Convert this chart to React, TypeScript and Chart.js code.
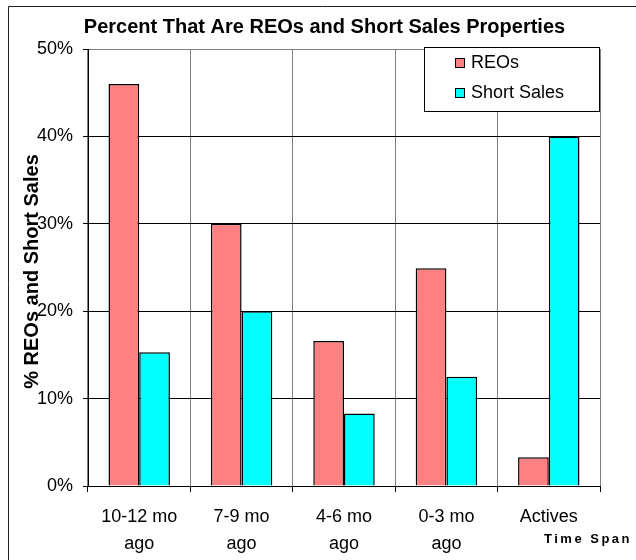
import React, { useEffect, useRef } from "react";
import { Chart, registerables } from "chart.js";

Chart.register(...registerables);

const categories: (string | string[])[] = [
  ["10-12 mo", "ago"],
  ["7-9 mo", "ago"],
  ["4-6 mo", "ago"],
  ["0-3 mo", "ago"],
  "Actives",
];
const reoValues = [46, 30, 16.6, 24.9, 3.3];
const shortSalesValues = [15.3, 20, 8.3, 12.5, 40];
const seriesNames = ["REOs", "Short Sales"];
const seriesColors = ["#FF8080", "#00FFFF"];
const chartTitle = "Percent That Are REOs and Short Sales Properties";
const yAxisTitle = "% REOs and Short Sales";
const xAxisTitle = "Time Span";

const FONT = '"Liberation Sans", Arial, sans-serif';

const decorPlugin = {
  id: "decor",
  afterDraw(chart: any) {
    const ctx = chart.ctx as CanvasRenderingContext2D;
    const area = chart.chartArea;
    ctx.save();
    // outer frame (top + left)
    ctx.strokeStyle = "#222";
    ctx.lineWidth = 1;
    ctx.beginPath();
    ctx.moveTo(8.5, 560);
    ctx.lineTo(8.5, 6.5);
    ctx.lineTo(636, 6.5);
    ctx.stroke();

    // title
    ctx.fillStyle = "#000";
    ctx.font = `bold 20px ${FONT}`;
    ctx.textAlign = "center";
    ctx.textBaseline = "middle";
    ctx.fillText(chartTitle, 324.5, 27);

    // y title
    ctx.save();
    ctx.translate(32, (area.top + area.bottom) / 2 + 4);
    ctx.rotate(-Math.PI / 2);
    ctx.font = `bold 20px ${FONT}`;
    ctx.fillText(yAxisTitle, 0, 0);
    ctx.restore();

    // x title
    ctx.save();
    ctx.font = `bold 13px ${FONT}`;
    (ctx as any).letterSpacing = "2.5px";
    ctx.textAlign = "left";
    ctx.fillText(xAxisTitle, 544, 539);
    ctx.restore();

    // legend
    const lx = 424.5, ly = 47.5, lw = 175, lh = 64;
    ctx.fillStyle = "#fff";
    ctx.fillRect(lx, ly, lw, lh);
    ctx.strokeStyle = "#000";
    ctx.lineWidth = 1;
    ctx.strokeRect(lx, ly, lw, lh);
    ctx.font = `18px ${FONT}`;
    ctx.textAlign = "left";
    ctx.textBaseline = "middle";
    const rows = [63, 93];
    seriesNames.forEach((name, i) => {
      ctx.fillStyle = seriesColors[i];
      ctx.fillRect(455, rows[i] - 5, 10, 10);
      ctx.strokeStyle = "#000";
      ctx.strokeRect(455.5, rows[i] - 4.5, 9, 9);
      ctx.fillStyle = "#000";
      ctx.fillText(name, 471, rows[i]);
    });
    ctx.restore();
  },
};

export default function App() {
  const ref = useRef<HTMLCanvasElement | null>(null);
  useEffect(() => {
    if (!ref.current) return;
    const chart = new Chart(ref.current, {
      type: "bar",
      data: {
        labels: categories,
        datasets: [
          {
            label: seriesNames[0],
            data: reoValues,
            backgroundColor: seriesColors[0],
            borderColor: "#000",
            borderWidth: 1.5,
          },
          {
            label: seriesNames[1],
            data: shortSalesValues,
            backgroundColor: seriesColors[1],
            borderColor: "#000",
            borderWidth: 1.5,
          },
        ],
      },
      options: {
        responsive: false,
        animation: false,
        events: [],
        layout: { padding: { left: 0, right: 36, top: 49, bottom: 0 } },
        datasets: { bar: { categoryPercentage: 0.6, barPercentage: 1 } },
        plugins: {
          legend: { display: false },
          title: { display: false },
          tooltip: { enabled: false },
        },
        scales: {
          x: {
            grid: {
              offset: true,
              color: "#808080",
              lineWidth: 1,
              tickLength: 6,
              tickColor: "#000",
            },
            border: { color: "#000", width: 1 },
            ticks: {
              color: "#000",
              padding: 12,
              maxRotation: 0,
              autoSkip: false,
              font: { family: FONT, size: 18, lineHeight: 1.5 },
            },
            afterFit: (s: any) => {
              s.height = 74;
            },
          },
          y: {
            min: 0,
            max: 50,
            grid: {
              color: (c: any) => (c.tick && c.tick.value === 50 ? "#808080" : "#000"),
              lineWidth: 1,
              tickLength: 5,
              tickColor: "#000",
            },
            border: { color: "#000", width: 1 },
            ticks: {
              stepSize: 10,
              color: "#000",
              padding: 10,
              callback: (v: any) => v + "%",
              font: { family: FONT, size: 18 },
            },
            afterFit: (s: any) => {
              s.width = 88;
            },
          },
        },
      },
      plugins: [decorPlugin],
    });
    return () => chart.destroy();
  }, []);
  return (
    <div style={{ position: "fixed", left: 0, top: 0, width: 636, height: 560, background: "#fff" }}>
      <canvas ref={ref} width={636} height={560} style={{ display: "block" }} />
    </div>
  );
}
